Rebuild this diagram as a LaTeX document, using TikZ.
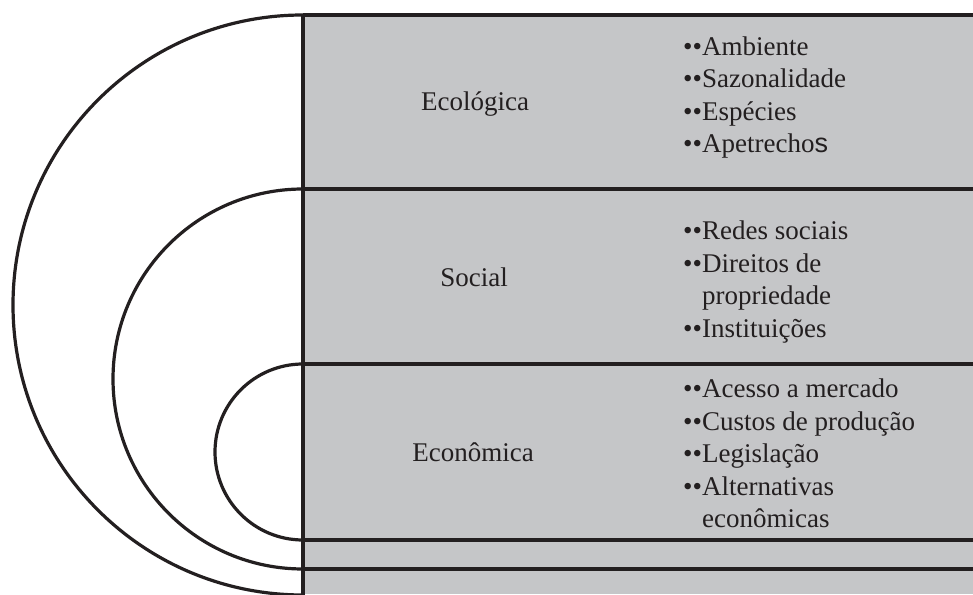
\documentclass[tikz,border=0pt]{standalone}
\usepackage{fontspec}
\setmainfont{Liberation Serif}
\newfontfamily\semserifa{Liberation Sans}
\usepackage{xcolor}
\definecolor{faixa}{RGB}{197,198,200}
\definecolor{tinta}{RGB}{35,31,32}

\begin{document}
\begin{tikzpicture}[x=1pt,y=1pt]
        \tikzset{
          linha/.style={draw=tinta, line width=3.2pt},
          rotulo/.style={draw=none, fill=none, inner sep=0pt, anchor=center, text=tinta,
                         font=\fontsize{27}{32.5}\selectfont},
          itens/.style={draw=none, fill=none, inner sep=0pt, anchor=west, align=left, text=tinta,
                        font=\fontsize{27}{32.5}\selectfont}
        }
        \useasboundingbox (0,0) rectangle (973,594);

        % — faixas cinzas —
        \fill[faixa] (303,0) rectangle (973,579);
        \foreach \y in {579,405,230,54,25} {
          \draw[linha] (303,\y) -- (973,\y);
        }
        \draw[linha] (303,579) -- (303,-5);

        % — semicirculos —
        \draw[linha] (303,579) arc[start angle=90, end angle=270, radius=290];
        \draw[linha] (303,405) arc[start angle=90, end angle=270, radius=190];
        \draw[linha] (303,230) arc[start angle=90, end angle=270, radius=88];

        % — dimensoes —
        \node[rotulo] (ecologica) at (475,490) {Ecológica};
        \node[rotulo] (social)    at (474,317) {Social};
        \node[rotulo] (economica) at (473,142) {Econômica};

        % — itens de cada dimensao —
        \node[itens] (ecologicaitens) at (683,496.5)
          {••Ambiente\\••Sazonalidade\\••Espécies\\••Apetrecho{\semserifa s}};
        \node[itens] (socialitens) at (683,312)
          {••Redes sociais\\••Direitos de\\\phantom{••}propriedade\\••Instituições};
        \node[itens] (economicaitens) at (683,140.5)
          {••Acesso a mercado\\••Custos de produção\\••Legislação\\••Alternativas\\\phantom{••}econômicas};
\end{tikzpicture}
\end{document}
